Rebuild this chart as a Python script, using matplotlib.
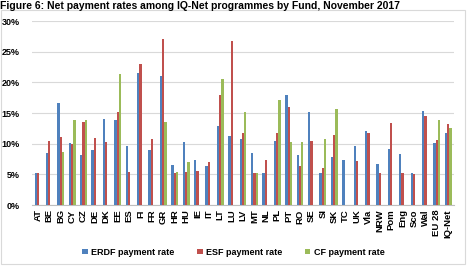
import matplotlib.pyplot as plt
from matplotlib.patches import Rectangle
import numpy as np

# categories and payment rates (%)
labels = ["AT", "BE", "BG", "CY", "CZ", "DE", "DK", "EE", "ES", "FI", "FR", "GR",
          "HR", "HU", "IE", "IT", "LT", "LU", "LV", "MT", "NL", "PL", "PT", "RO",
          "SE", "SI", "SK", "TC", "UK", "Vla", "NRW", "Pom", "Eng", "Sco", "Wal",
          "EU 28", "IQ-Net"]
erdf = [5.2, 8.5, 16.7, 10.1, 8.2, 9.0, 14.0, 13.8, 9.7, 21.5, 8.9, 21.1,
        6.6, 10.3, 7.3, 6.4, 12.9, 11.2, 10.8, 8.5, 5.2, 10.5, 17.9, 8.1,
        15.2, 5.2, 7.9, 7.4, 9.6, 12.1, 6.7, 9.2, 8.4, 5.2, 15.3,
        10.2, 11.8]
esf = [5.2, 10.4, 11.1, 9.9, 13.5, 11.0, 10.3, 15.2, 5.4, 23.0, 10.7, 27.0,
       5.2, 5.4, 5.5, 7.0, 18.0, 26.7, 11.8, 5.2, 7.4, 11.7, 16.0, 6.4,
       10.5, 6.1, 11.4, np.nan, 7.2, 11.8, 5.2, 13.3, 5.2, 5.1, 14.6,
       10.6, 13.2]
cf = [np.nan, np.nan, 8.6, 13.8, 13.9, np.nan, np.nan, 21.4, np.nan, np.nan, np.nan, 13.6,
      5.4, 7.0, np.nan, np.nan, 20.5, np.nan, 15.2, 5.2, np.nan, 17.2, 10.3, 10.3,
      np.nan, 10.8, 15.7, np.nan, np.nan, np.nan, np.nan, np.nan, np.nan, np.nan, np.nan,
      13.8, 12.5]

series = [("ERDF payment rate", erdf, "#4F81BD"),
          ("ESF payment rate", esf, "#C0504D"),
          ("CF payment rate", cf, "#9BBB59")]

plt.rcParams['font.family'] = ['Liberation Sans', 'DejaVu Sans']

fig = plt.figure(figsize=(4.67, 2.66), dpi=100)
# light frame round the chart area
fig.patches.append(Rectangle((0.002, 0.008), 0.993, 0.955, transform=fig.transFigure,
                             fill=False, edgecolor="#d9d9d9", linewidth=0.8))
fig.text(0.0, 0.978, "Figure 6: Net payment rates among IQ-Net programmes by Fund, November 2017",
         fontsize=7.5, fontweight="bold", va="center", ha="left")

ax = fig.add_axes([0.069, 0.229, 0.903, 0.692])
x = np.arange(len(labels))
w = 0.2
for i, (name, vals, col) in enumerate(series):
    ax.bar(x + (i - 1) * w, vals, width=w, color=col, label=name, zorder=3)

ax.set_xlim(-0.5, len(labels) - 0.5)
ax.set_ylim(0, 30)
ax.set_yticks(np.arange(0, 31, 5))
ax.set_yticklabels([f"{v}%" for v in range(0, 31, 5)], fontsize=6.5, fontweight="bold")
ax.set_xticks(x)
ax.set_xticklabels(labels, rotation=90, fontsize=6.8, fontweight="bold")
ax.tick_params(axis="x", length=0, pad=3)
ax.tick_params(axis="y", length=0, pad=9)
ax.grid(axis="y", color="#d9d9d9", linewidth=0.8, zorder=0)
for s in ["top", "right", "left"]:
    ax.spines[s].set_visible(False)
ax.spines["bottom"].set_color("#bfbfbf")

leg = fig.legend(loc="center", bbox_to_anchor=(0.5, 0.052), ncol=3, frameon=False,
                 prop={"size": 6.5, "weight": "bold"}, handlelength=0.6, handleheight=0.6,
                 columnspacing=2.5, handletextpad=0.4)

fig.savefig("out.png", dpi=100)
